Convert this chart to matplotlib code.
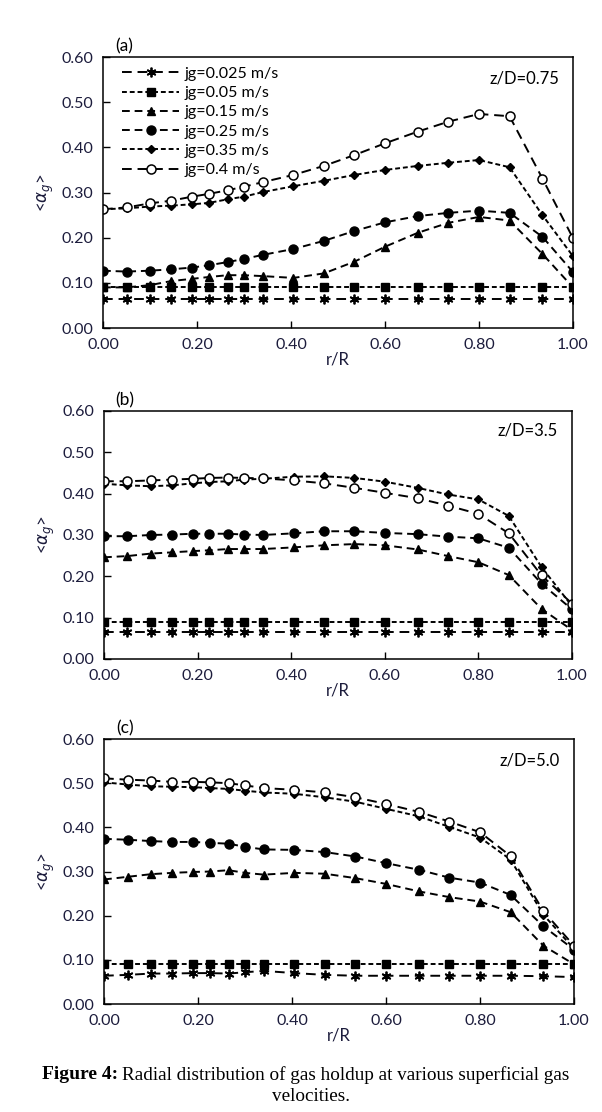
import matplotlib
matplotlib.use("Agg")
import matplotlib.pyplot as plt

plt.rcParams['font.family'] = ['Lato', 'DejaVu Sans']
plt.rcParams['mathtext.fontset'] = 'dejavusans'

# radial positions r/R
r = [0.0, 0.05, 0.10, 0.145, 0.19, 0.225, 0.265, 0.30, 0.34, 0.405,
     0.47, 0.535, 0.60, 0.67, 0.735, 0.80, 0.865, 0.935, 1.0]

labels = ["jg=0.025 m/s", "jg=0.05 m/s", "jg=0.15 m/s",
          "jg=0.25 m/s", "jg=0.35 m/s", "jg=0.4 m/s"]

# (a) z/D = 0.75
a_025 = [0.065] * 19
a_05 = [0.09] * 19
a_15 = [0.09, 0.09, 0.095, 0.104, 0.109, 0.113, 0.117, 0.117, 0.115, 0.111,
        0.121, 0.147, 0.180, 0.211, 0.233, 0.246, 0.238, 0.164, 0.09]
a_25 = [0.127, 0.125, 0.127, 0.130, 0.134, 0.139, 0.146, 0.153, 0.162, 0.175,
        0.193, 0.215, 0.234, 0.248, 0.255, 0.260, 0.255, 0.202, 0.124]
a_35 = [0.263, 0.265, 0.269, 0.271, 0.274, 0.277, 0.285, 0.291, 0.301, 0.314,
        0.326, 0.339, 0.350, 0.359, 0.366, 0.372, 0.356, 0.250, 0.159]
a_40 = [0.263, 0.267, 0.276, 0.282, 0.291, 0.297, 0.305, 0.313, 0.323, 0.339,
        0.359, 0.383, 0.409, 0.435, 0.457, 0.474, 0.469, 0.331, 0.199]

# (b) z/D = 3.5
b_025 = [0.065] * 19
b_05 = [0.09] * 19
b_15 = [0.246, 0.249, 0.255, 0.258, 0.261, 0.263, 0.266, 0.266, 0.266, 0.270,
        0.275, 0.278, 0.275, 0.265, 0.249, 0.234, 0.203, 0.121, 0.07]
b_25 = [0.297, 0.297, 0.300, 0.301, 0.303, 0.303, 0.303, 0.301, 0.300, 0.304,
        0.309, 0.309, 0.305, 0.302, 0.296, 0.292, 0.269, 0.182, 0.120]
b_35 = [0.424, 0.420, 0.418, 0.420, 0.425, 0.428, 0.430, 0.434, 0.436, 0.441,
        0.442, 0.438, 0.429, 0.414, 0.398, 0.386, 0.346, 0.222, 0.128]
b_40 = [0.430, 0.430, 0.432, 0.434, 0.436, 0.438, 0.439, 0.438, 0.437, 0.432,
        0.425, 0.414, 0.402, 0.389, 0.371, 0.351, 0.304, 0.202, 0.134]

# (c) z/D = 5.0
c_025 = [0.064, 0.066, 0.069, 0.069, 0.070, 0.070, 0.069, 0.072, 0.075, 0.070,
         0.066, 0.064, 0.064, 0.064, 0.064, 0.064, 0.064, 0.063, 0.061]
c_05 = [0.09] * 19
c_15 = [0.282, 0.288, 0.294, 0.297, 0.299, 0.300, 0.303, 0.297, 0.293, 0.297,
        0.295, 0.285, 0.272, 0.255, 0.242, 0.232, 0.208, 0.132, 0.09]
c_25 = [0.374, 0.372, 0.369, 0.367, 0.367, 0.365, 0.363, 0.356, 0.350, 0.349,
        0.344, 0.334, 0.319, 0.304, 0.286, 0.275, 0.247, 0.176, 0.123]
c_35 = [0.502, 0.497, 0.493, 0.492, 0.491, 0.489, 0.487, 0.483, 0.479, 0.476,
        0.468, 0.458, 0.442, 0.425, 0.401, 0.377, 0.327, 0.202, 0.125]
c_40 = [0.511, 0.508, 0.506, 0.503, 0.503, 0.502, 0.500, 0.495, 0.489, 0.485,
        0.479, 0.468, 0.453, 0.435, 0.413, 0.389, 0.335, 0.210, 0.132]

panels = [
    ("(a)", "z/D=0.75", [a_025, a_05, a_15, a_25, a_35, a_40]),
    ("(b)", "z/D=3.5", [b_025, b_05, b_15, b_25, b_35, b_40]),
    ("(c)", "z/D=5.0", [c_025, c_05, c_15, c_25, c_35, c_40]),
]

# marker / dash style per series
styles = [
    dict(marker=(6, 2, 0), ms=7, mfc='black', mew=1.3, dashes=(5, 3)),
    dict(marker='s', ms=5.5, mfc='black', mew=1, dashes=(2.5, 1.5)),
    dict(marker='^', ms=6, mfc='black', mew=1, dashes=(4, 2.5)),
    dict(marker='o', ms=6.5, mfc='black', mew=1, dashes=(4, 2.5)),
    dict(marker='D', ms=4.5, mfc='black', mew=1, dashes=(2.5, 1.5)),
    dict(marker='o', ms=6.5, mfc='white', mew=1.1, dashes=(5, 3)),
]

txt = '#1c1c3c'
fig = plt.figure(figsize=(6.02, 11.12), dpi=100)
rects = [
    [0.1711, 0.7050, 0.7807, 0.2437],
    [0.1728, 0.4074, 0.7774, 0.2230],
    [0.1728, 0.0971, 0.7807, 0.2383],
]

for k, (tag, zd, series) in enumerate(panels):
    ax = fig.add_axes(rects[k])
    for ys, lab, st in zip(series, labels, styles):
        ax.plot(r, ys, color='black', lw=1.4, mec='black', label=lab,
                marker=st['marker'], ms=st['ms'], mfc=st['mfc'],
                mew=st['mew'], dashes=st['dashes'])
    ax.set_xlim(0, 1.0)
    ax.set_ylim(0, 0.6)
    ax.set_xticks([0, 0.2, 0.4, 0.6, 0.8, 1.0])
    ax.set_yticks([0, 0.1, 0.2, 0.3, 0.4, 0.5, 0.6])
    ax.xaxis.set_major_formatter(matplotlib.ticker.FormatStrFormatter('%.2f'))
    ax.yaxis.set_major_formatter(matplotlib.ticker.FormatStrFormatter('%.2f'))
    ax.tick_params(direction='in', length=5, width=1, labelsize=11.5,
                   labelcolor=txt, pad=7)
    for s in ax.spines.values():
        s.set_linewidth(1.1)
    ax.set_xlabel("r/R", fontsize=12, color=txt, labelpad=0)
    ax.set_ylabel(r"<$\alpha_g$>", fontsize=12, color=txt, labelpad=4)
    ax.text(0.045, 1.01, tag, transform=ax.transAxes, fontsize=12.5,
            color='black', ha='center', va='bottom')
    ax.text(0.97, 0.92, zd, transform=ax.transAxes, fontsize=12,
            color='black', ha='right', va='center')
    if k == 0:
        ax.legend(loc='upper left', frameon=False, fontsize=11.5,
                  handlelength=3.6, handletextpad=0.3, labelspacing=0.32,
                  borderaxespad=0.2, bbox_to_anchor=(0.02, 1.0))

fig.text(0.07, 0.0335, "Figure 4:", fontsize=14, fontweight='bold',
         family='Liberation Serif', ha='left', va='center')
fig.text(0.203, 0.0335, "Radial distribution of gas holdup at various superficial gas",
         fontsize=13.8, family='Liberation Serif', ha='left', va='center')
fig.text(0.517, 0.0135, "velocities.", fontsize=13.8, family='Liberation Serif',
         ha='center', va='center')

fig.savefig("out.png", dpi=100)
